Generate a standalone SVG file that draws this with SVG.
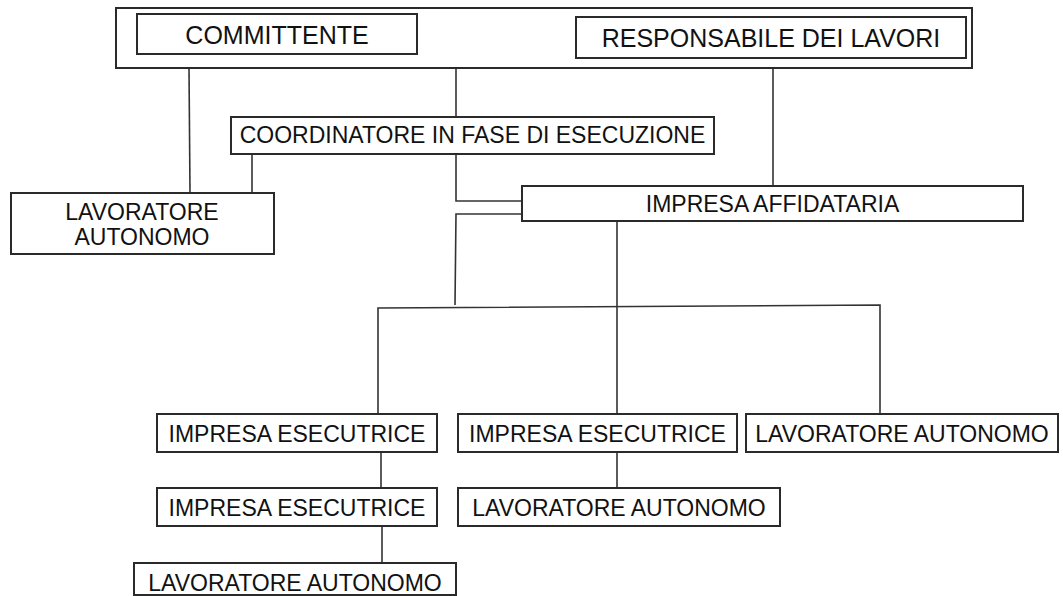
<svg xmlns="http://www.w3.org/2000/svg" width="1063" height="596" viewBox="0 0 1063 596">
<style>
.box{fill:#fff;stroke:#2a2a2a;stroke-width:2}
.ln{fill:none;stroke:#333;stroke-width:1.6}
.dash{fill:none;stroke:#333;stroke-width:1.2;stroke-dasharray:4 2}
text{font-family:"Liberation Sans",Arial,sans-serif;fill:#111;text-anchor:middle}
.t24{font-size:25px}
.t22{font-size:23px}
</style>
<rect width="1063" height="596" fill="#fff"/>
<g id="connectors">
<line class="dash" x1="417" y1="28" x2="576" y2="28"/>
<line class="ln" x1="189" y1="68" x2="190" y2="193"/>
<line class="ln" x1="456" y1="68" x2="456" y2="117"/>
<line class="ln" x1="773" y1="68" x2="773" y2="187"/>
<line class="ln" x1="252" y1="155" x2="252" y2="193"/>
<polyline class="ln" points="456,155 456,201 522,201"/>
<polyline class="ln" points="522,214 456,214 455,305"/>
<polyline class="ln" points="378,420 378,308 880,305 880,414"/>
<line class="ln" x1="617" y1="221" x2="617" y2="414"/>
<line class="ln" x1="381" y1="452" x2="381" y2="488"/>
<line class="ln" x1="617" y1="452" x2="617" y2="488"/>
<line class="ln" x1="382" y1="526" x2="382" y2="563"/>
</g>
<g id="outer"><rect class="box" x="116" y="8" width="856" height="60"/></g>
<g id="committente"><rect class="box" x="137" y="14" width="280" height="40"/><text class="t24" x="277" y="44">COMMITTENTE</text></g>
<g id="responsabile"><rect class="box" x="576" y="17" width="390" height="41"/><text class="t24" x="771" y="47">RESPONSABILE DEI LAVORI</text></g>
<g id="coordinatore"><rect class="box" x="231" y="117" width="483" height="37"/><text class="t22" x="472.5" y="143">COORDINATORE IN FASE DI ESECUZIONE</text></g>
<g id="lavoratore1"><rect class="box" x="11" y="193" width="263" height="61"/><text class="t22" x="142" y="220">LAVORATORE</text><text class="t22" x="142" y="245">AUTONOMO</text></g>
<g id="affidataria"><rect class="box" x="522" y="186" width="501" height="35"/><text class="t22" x="772.5" y="212">IMPRESA AFFIDATARIA</text></g>
<g id="esecutrice1"><rect class="box" x="157" y="414" width="280" height="38"/><text class="t22" x="297" y="442">IMPRESA ESECUTRICE</text></g>
<g id="esecutrice2"><rect class="box" x="458" y="414" width="279" height="38"/><text class="t22" x="597.5" y="442">IMPRESA ESECUTRICE</text></g>
<g id="lavoratore2"><rect class="box" x="746" y="414" width="312" height="38"/><text class="t22" x="902" y="442">LAVORATORE AUTONOMO</text></g>
<g id="esecutrice3"><rect class="box" x="157" y="488" width="280" height="38"/><text class="t22" x="297" y="516">IMPRESA ESECUTRICE</text></g>
<g id="lavoratore3"><rect class="box" x="458" y="488" width="322" height="38"/><text class="t22" x="619" y="516">LAVORATORE AUTONOMO</text></g>
<g id="lavoratore4"><rect class="box" x="134" y="563" width="322" height="32"/><text class="t22" x="295" y="591">LAVORATORE AUTONOMO</text></g>
</svg>
